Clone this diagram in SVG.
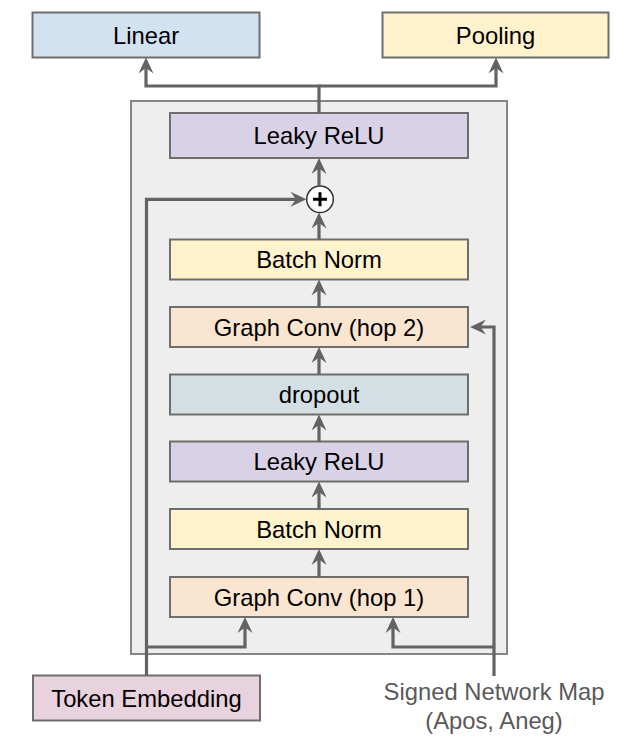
<svg xmlns="http://www.w3.org/2000/svg" width="644" height="756" viewBox="0 0 644 756">
<style>
.box{stroke:#6e6e6e;stroke-width:2}
.lbl{font-family:"Liberation Sans",Arial,sans-serif;font-size:23.8px;fill:#000;text-anchor:middle}
.gray{fill:#595959}
.conn{fill:none;stroke:#636363;stroke-width:3.2;marker-end:url(#ah)}
</style>
<defs>
<marker id="ah" markerUnits="userSpaceOnUse" viewBox="-11 -9 18 18" markerWidth="18" markerHeight="18" refX="0" refY="0" orient="auto">
<path d="M6,0 L-10,-7.5 L-4.5,0 L-10,7.5 Z" fill="#636363"/>
</marker>
</defs>
<rect width="644" height="756" fill="#fff"/>
<g id="container">
<rect x="131" y="101" width="376" height="553" fill="#eeeeee" stroke="#858585" stroke-width="2"/>
</g>
<g id="linear"><rect class="box" x="32.5" y="12.5" width="227" height="45" fill="#d3e2f1"/><text class="lbl" x="146" y="43.7">Linear</text></g>
<g id="pooling"><rect class="box" x="382.5" y="12.5" width="226" height="45" fill="#fff2cc"/><text class="lbl" x="495.5" y="43.7">Pooling</text></g>
<g id="leaky2"><rect class="box" x="170" y="113" width="298" height="45" fill="#d9d2e7"/><text class="lbl" x="319" y="144">Leaky ReLU</text></g>
<g id="plus"><circle cx="320" cy="199.3" r="13.3" fill="#fff" stroke="#333" stroke-width="1.5"/><path d="M313,199.3 H327 M320,192.3 V206.3" stroke="#000" stroke-width="3"/></g>
<g id="bn2"><rect class="box" x="170" y="239.5" width="298" height="40" fill="#fff2cc"/><text class="lbl" x="319" y="268">Batch Norm</text></g>
<g id="hop2"><rect class="box" x="170" y="307" width="298" height="40" fill="#f9e5d0"/><text class="lbl" x="319" y="335.5">Graph Conv (hop 2)</text></g>
<g id="dropout"><rect class="box" x="170" y="374.5" width="298" height="40" fill="#d3dfe3"/><text class="lbl" x="319" y="403">dropout</text></g>
<g id="leaky1"><rect class="box" x="170" y="441.5" width="298" height="40" fill="#d9d2e7"/><text class="lbl" x="319" y="470">Leaky ReLU</text></g>
<g id="bn1"><rect class="box" x="170" y="509" width="298" height="40" fill="#fff2cc"/><text class="lbl" x="319" y="537.5">Batch Norm</text></g>
<g id="hop1"><rect class="box" x="170" y="577" width="298" height="40" fill="#f9e5d0"/><text class="lbl" x="319" y="605.5">Graph Conv (hop 1)</text></g>
<g id="token"><rect class="box" x="33" y="675.5" width="227" height="45" fill="#e8d2dd"/><text class="lbl" x="146.5" y="706.5">Token Embedding</text></g>
<g id="signed"><text class="lbl gray" x="494" y="700">Signed Network Map</text><text class="lbl gray" x="494" y="729">(Apos, Aneg)</text></g>
<g id="connectors">
<path class="conn" d="M319,577 V555"/>
<path class="conn" d="M319,509 V487.5"/>
<path class="conn" d="M319,441.5 V420.5"/>
<path class="conn" d="M319,374.5 V353"/>
<path class="conn" d="M319,307 V285.5"/>
<path class="conn" d="M319,239.5 V218.6"/>
<path class="conn" d="M319,186 V164"/>
<path class="conn" d="M319,113 V86 H146 V63.5"/>
<path class="conn" d="M319,86 H496 V63.5"/>
<path class="conn" d="M146.5,675.5 V199.3 H300.5"/>
<path class="conn" d="M146.5,647 H245 V623"/>
<path class="conn" d="M494,676 V327 H476"/>
<path class="conn" d="M494,647 H393 V623"/>
</g>
</svg>
